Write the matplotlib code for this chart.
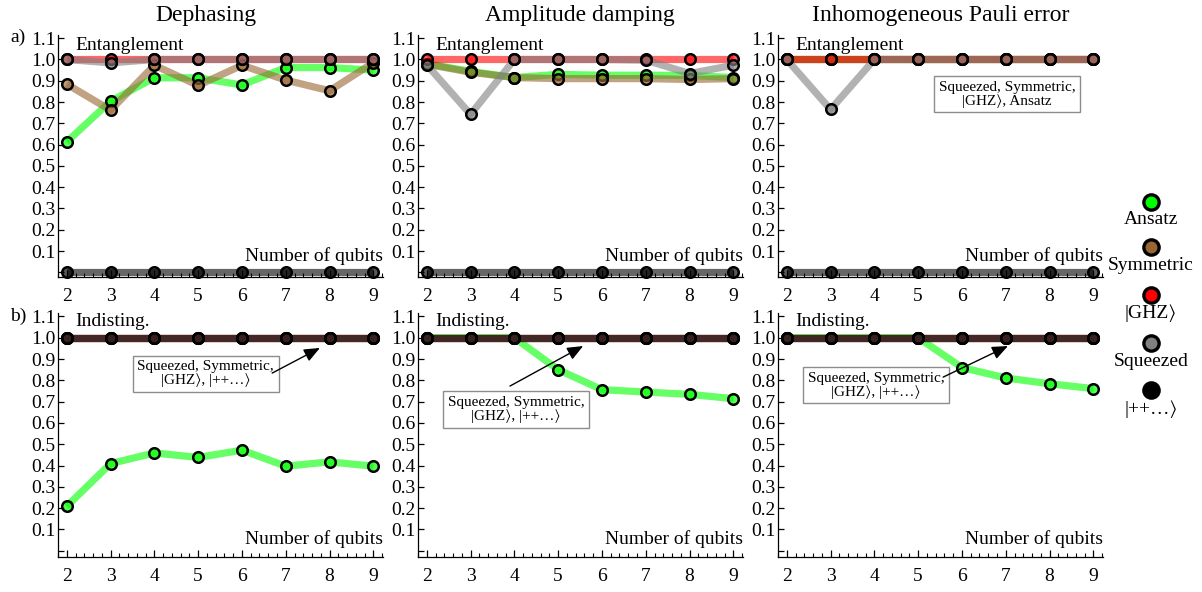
import matplotlib
matplotlib.use("Agg")
import matplotlib.pyplot as plt
from matplotlib.lines import Line2D
from matplotlib.ticker import FixedLocator, MultipleLocator
from matplotlib.colors import to_rgba

plt.rcParams['font.family'] = ['Liberation Serif', 'STIXGeneral', 'DejaVu Sans']
plt.rcParams['mathtext.fontset'] = 'stix'

# ---------------- data ----------------
qubits = [2, 3, 4, 5, 6, 7, 8, 9]
series_names = ["Ansatz", "Symmetric", "|GHZ⟩", "Squeezed", "|++…⟩"]
series_colors = ["#00ff00", "#996633", "#ff0000", "#808080", "#000000"]
column_titles = ["Dephasing", "Amplitude damping", "Inhomogeneous Pauli error"]
y_ticks = [0.0, 0.1, 0.2, 0.3, 0.4, 0.5, 0.6, 0.7, 0.8, 0.9, 1.0, 1.1]
y_ticklabels = ["", "0.1", "0.2", "0.3", "0.4", "0.5", "0.6", "0.7", "0.8", "0.9", "1.0", "1.1"]

# Entanglement (row a)
deph_ent_ansatz = [0.613, 0.804, 0.914, 0.914, 0.880, 0.962, 0.962, 0.950]
deph_ent_symmetric = [0.884, 0.762, 0.973, 0.878, 0.973, 0.903, 0.853, 0.985]
deph_ent_ghz = [1.0, 1.0, 1.0, 1.0, 1.0, 1.0, 1.0, 1.0]
deph_ent_squeezed = [1.0, 0.984, 1.0, 1.0, 1.0, 1.0, 1.0, 1.0]
deph_ent_plus = [0.0, 0.0, 0.0, 0.0, 0.0, 0.0, 0.0, 0.0]

amp_ent_ansatz = [0.980, 0.944, 0.915, 0.930, 0.926, 0.926, 0.925, 0.915]
amp_ent_symmetric = [0.978, 0.940, 0.915, 0.910, 0.910, 0.910, 0.906, 0.910]
amp_ent_ghz = [1.0, 1.0, 1.0, 1.0, 1.0, 1.0, 1.0, 1.0]
amp_ent_squeezed = [0.975, 0.742, 1.0, 1.0, 1.0, 0.997, 0.934, 0.973]
amp_ent_plus = [0.0, 0.0, 0.0, 0.0, 0.0, 0.0, 0.0, 0.0]

pauli_ent_ansatz = [1.0, 1.0, 1.0, 1.0, 1.0, 1.0, 1.0, 1.0]
pauli_ent_symmetric = [1.0, 1.0, 1.0, 1.0, 1.0, 1.0, 1.0, 1.0]
pauli_ent_ghz = [1.0, 1.0, 1.0, 1.0, 1.0, 1.0, 1.0, 1.0]
pauli_ent_squeezed = [1.0, 0.765, 1.0, 1.0, 1.0, 1.0, 1.0, 1.0]
pauli_ent_plus = [0.0, 0.0, 0.0, 0.0, 0.0, 0.0, 0.0, 0.0]

# Indistinguishability (row b)
deph_ind_ansatz = [0.209, 0.409, 0.459, 0.438, 0.472, 0.397, 0.417, 0.397]
deph_ind_symmetric = [1.0, 1.0, 1.0, 1.0, 1.0, 1.0, 1.0, 1.0]
deph_ind_ghz = [1.0, 1.0, 1.0, 1.0, 1.0, 1.0, 1.0, 1.0]
deph_ind_squeezed = [1.0, 1.0, 1.0, 1.0, 1.0, 1.0, 1.0, 1.0]
deph_ind_plus = [1.0, 1.0, 1.0, 1.0, 1.0, 1.0, 1.0, 1.0]

amp_ind_ansatz = [1.0, 1.0, 1.0, 0.850, 0.756, 0.745, 0.734, 0.714]
amp_ind_symmetric = [1.0, 1.0, 1.0, 1.0, 1.0, 1.0, 1.0, 1.0]
amp_ind_ghz = [1.0, 1.0, 1.0, 1.0, 1.0, 1.0, 1.0, 1.0]
amp_ind_squeezed = [1.0, 1.0, 1.0, 1.0, 1.0, 1.0, 1.0, 1.0]
amp_ind_plus = [1.0, 1.0, 1.0, 1.0, 1.0, 1.0, 1.0, 1.0]

pauli_ind_ansatz = [1.0, 1.0, 1.0, 1.0, 0.860, 0.811, 0.784, 0.761]
pauli_ind_symmetric = [1.0, 1.0, 1.0, 1.0, 1.0, 1.0, 1.0, 1.0]
pauli_ind_ghz = [1.0, 1.0, 1.0, 1.0, 1.0, 1.0, 1.0, 1.0]
pauli_ind_squeezed = [1.0, 1.0, 1.0, 1.0, 1.0, 1.0, 1.0, 1.0]
pauli_ind_plus = [1.0, 1.0, 1.0, 1.0, 1.0, 1.0, 1.0, 1.0]

panels_ent = [
    [deph_ent_ansatz, deph_ent_symmetric, deph_ent_ghz, deph_ent_squeezed, deph_ent_plus],
    [amp_ent_ansatz, amp_ent_symmetric, amp_ent_ghz, amp_ent_squeezed, amp_ent_plus],
    [pauli_ent_ansatz, pauli_ent_symmetric, pauli_ent_ghz, pauli_ent_squeezed, pauli_ent_plus],
]
panels_ind = [
    [deph_ind_ansatz, deph_ind_symmetric, deph_ind_ghz, deph_ind_squeezed, deph_ind_plus],
    [amp_ind_ansatz, amp_ind_symmetric, amp_ind_ghz, amp_ind_squeezed, amp_ind_plus],
    [pauli_ind_ansatz, pauli_ind_symmetric, pauli_ind_ghz, pauli_ind_squeezed, pauli_ind_plus],
]

ent_box_text = "Squeezed, Symmetric,\n|GHZ⟩, Ansatz"
ind_box_text = "Squeezed, Symmetric,\n|GHZ⟩, |++…⟩"

# ---------------- figure ----------------
fig = plt.figure(figsize=(12.02, 5.92), dpi=100)

lefts = [58 / 1202, 418 / 1202, 778 / 1202]
width = 325 / 1202
row_specs = [  # (bottom, height, ylim)
    (1 - 277 / 592, 242 / 592, (-0.022, 1.115)),
    (1 - 556.7 / 592, 243.7 / 592, (-0.028, 1.116)),
]
title_centers = [206 / 1202, 580 / 1202, 941 / 1202]
FS = 14


def style_axes(ax, ylim):
    ax.set_xlim(1.80, 9.22)
    ax.set_ylim(*ylim)
    for s in ("top", "right"):
        ax.spines[s].set_visible(False)
    for s in ("left", "bottom"):
        ax.spines[s].set_linewidth(0.9)
    ax.set_xticks(qubits)
    ax.xaxis.set_minor_locator(MultipleLocator(0.2))
    ax.yaxis.set_major_locator(FixedLocator(y_ticks))
    ax.set_yticklabels(y_ticklabels)
    ax.tick_params(axis="x", which="major", direction="in", length=5, width=0.9,
                   labelsize=FS, pad=8)
    ax.tick_params(axis="x", which="minor", direction="in", length=3, width=0.8)
    ax.tick_params(axis="y", which="major", direction="in", length=4, width=0.9,
                   labelsize=FS, pad=2)


def draw_series(ax, data):
    for i, (vals, col) in enumerate(zip(data, series_colors)):
        ax.plot(qubits, vals, color=to_rgba(col, 0.6), lw=5.2,
                solid_joinstyle="round", solid_capstyle="butt", zorder=2 + i * 0.01)
    for i, (vals, col) in enumerate(zip(data, series_colors)):
        ax.plot(qubits, vals, ls="none", marker="o", ms=7.6,
                mfc=to_rgba(col, 0.65), mec="black", mew=1.8,
                zorder=3 + i * 0.01, clip_on=False)


axes_ent = []
axes_ind = []
for c in range(3):
    b, h, yl = row_specs[0]
    ax = fig.add_axes([lefts[c], b, width, h])
    style_axes(ax, yl)
    draw_series(ax, panels_ent[c])
    ax.text(2.19, 1.068, "Entanglement", fontsize=FS, va="center", ha="left")
    ax.text(9.22, 0.077, "Number of qubits", fontsize=FS, va="center", ha="right")
    fig.text(title_centers[c], 1 - 15 / 592, column_titles[c], fontsize=17,
             ha="center", va="center")
    axes_ent.append(ax)

    b, h, yl = row_specs[1]
    ax2 = fig.add_axes([lefts[c], b, width, h])
    style_axes(ax2, yl)
    draw_series(ax2, panels_ind[c])
    ax2.text(2.19, 1.074, "Indisting.", fontsize=FS, va="center", ha="left")
    ax2.text(9.22, 0.055, "Number of qubits", fontsize=FS, va="center", ha="right")
    axes_ind.append(ax2)

box_style = dict(boxstyle="square,pad=0.3", fc="white", ec="#8c8c8c", lw=1.0)

# Entanglement annotation (Pauli panel)
axes_ent[2].text(7.03, 0.836, ent_box_text, fontsize=11, ha="center", va="center",
                 bbox=box_style, zorder=5, linespacing=1.0)

# Indistinguishability annotations
ind_boxes = [(5.17, 0.83), (4.04, 0.663), (4.04, 0.776)]
ind_arrows = [((6.69, 0.834), (7.78, 0.952)),
              ((3.90, 0.773), (5.57, 0.961)),
              ((5.57, 0.815), (7.05, 0.961))]
for c in range(3):
    ax = axes_ind[c]
    ax.text(ind_boxes[c][0], ind_boxes[c][1], ind_box_text, fontsize=11,
            ha="center", va="center", bbox=box_style, zorder=5, linespacing=1.0)
    tail, head = ind_arrows[c]
    ax.annotate("", xy=head, xytext=tail,
                arrowprops=dict(arrowstyle="-|>,head_length=0.6,head_width=0.25",
                                color="black", lw=1.0,
                                mutation_scale=16, shrinkA=0, shrinkB=0),
                zorder=6)

# Row labels
fig.text(10 / 1202, 1 - 37 / 592, "a)", fontsize=FS, va="center", ha="left")
fig.text(10 / 1202, 1 - 316 / 592, "b)", fontsize=FS, va="center", ha="left")

# Legend on the right
leg_x = 1151 / 1202
marker_ys = [202, 247, 295, 343, 390]
label_ys = [219, 265, 313, 362, 409]
for name, col, my, ly in zip(series_names, series_colors, marker_ys, label_ys):
    fig.add_artist(Line2D([leg_x], [1 - my / 592], transform=fig.transFigure,
                          marker="o", ms=11, mfc=col, mec="black", mew=2.4, ls="none"))
    fig.text(leg_x, 1 - ly / 592, name, fontsize=FS, ha="center", va="center")

fig.savefig("out.png", dpi=100)
